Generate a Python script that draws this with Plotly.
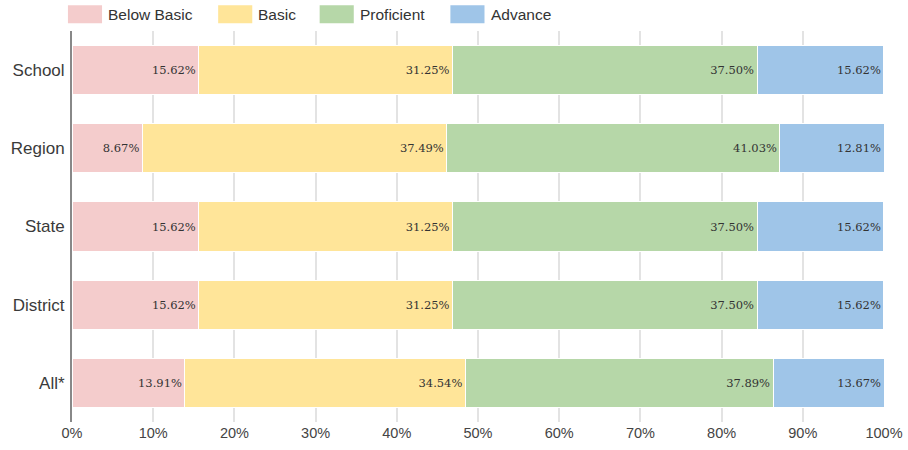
import plotly.graph_objects as go

categories = ["School", "Region", "State", "District", "All*"]
series_names = ["Below Basic", "Basic", "Proficient", "Advance"]
below_basic = [15.62, 8.67, 15.62, 15.62, 13.91]
basic = [31.25, 37.49, 31.25, 31.25, 34.54]
proficient = [37.50, 41.03, 37.50, 37.50, 37.89]
advance = [15.62, 12.81, 15.62, 15.62, 13.67]
x_ticks = [0, 10, 20, 30, 40, 50, 60, 70, 80, 90, 100]
x_tick_labels = [f"{t}%" for t in x_ticks]

colors = ["#F4CCCC", "#FFE599", "#B6D7A8", "#9FC5E8"]
values = [below_basic, basic, proficient, advance]

fig = go.Figure()
for name, vals, col in zip(series_names, values, colors):
    fig.add_trace(go.Bar(
        y=categories, x=vals, name=name, orientation="h",
        marker=dict(color=col, line=dict(color="white", width=1)),
        text=[f"{v:.2f}%" for v in vals],
        textposition="inside", insidetextanchor="end", textangle=0,
        constraintext="none",
        textfont=dict(family="DejaVu Serif", size=11.5, color="#333333"),
        hoverinfo="x+y", showlegend=False,
    ))

# custom legend (wide swatches)
legend_x = [-0.005, 0.180, 0.305, 0.466]
for name, col, lx in zip(series_names, colors, legend_x):
    fig.add_shape(type="rect", xref="paper", yref="paper",
                  x0=lx, x1=lx + 0.042, y0=1.020, y1=1.066,
                  fillcolor=col, line=dict(width=0), layer="above")
    fig.add_annotation(x=lx + 0.047, y=1.043, xref="paper", yref="paper",
                       text=name, showarrow=False, xanchor="left", yanchor="middle",
                       font=dict(family="Liberation Sans", size=15.5, color="#333333"))

fig.update_layout(
    barmode="stack",
    bargap=0.37,
    width=908, height=450,
    margin=dict(l=72, r=24, t=31, b=28, autoexpand=False),
    paper_bgcolor="white", plot_bgcolor="white",
    font=dict(family="Liberation Sans", size=14, color="#444444"),
    uniformtext=dict(minsize=9, mode="show"),
)
fig.update_xaxes(
    range=[0, 100], tickvals=x_ticks, ticktext=x_tick_labels,
    showgrid=True, gridcolor="#E3E3E3", gridwidth=1.5,
    zeroline=False, showline=False, ticks="", automargin=False,
    tickfont=dict(size=14.5, color="#444444"), fixedrange=True,
)
fig.update_yaxes(
    categoryorder="array", categoryarray=categories, autorange="reversed",
    showline=True, linecolor="#888888", linewidth=2, automargin=False,
    ticks="outside", ticklen=2, tickcolor="white",
    tickfont=dict(family="Liberation Sans", size=17, color="#3a3a3a"),
    showgrid=False, fixedrange=True,
)

fig.write_html(
    "out.html",
    config={"displayModeBar": False},
    post_script="document.body.style.margin='0px';document.body.style.overflow='hidden';",
)
